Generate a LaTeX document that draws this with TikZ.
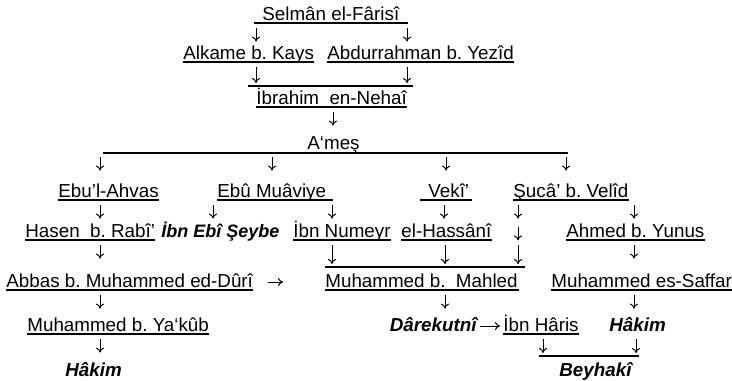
\documentclass[tikz,border=0pt]{standalone}
\usepackage{fontspec}
\setmainfont{Liberation Sans}
\usetikzlibrary{arrows.meta}
\frenchspacing

\tikzset{
  ravi/.style={inner sep=0pt, anchor=base west, text height=7pt, text depth=2pt,
    font=\fontsize{9.4}{11}\selectfont},
  hafiz/.style={ravi, font=\fontsize{9.4}{11}\selectfont\bfseries\itshape},
  ok/.style={-{To[length=2.5pt,width=4pt]}, line width=0.5pt, shorten <=2pt},
  cizgi/.style={line width=0.6pt}
}

\begin{document}
\begin{tikzpicture}[x=0.5pt, y=-0.5pt]
  \useasboundingbox (0,0) rectangle (732,380);

  % isimler
  \node[ravi] (selman) at (262,20) {Selmân el-Fârisî};
  \node[ravi] (alkame) at (183,59) {Alkame b. Kays};
  \node[ravi] (abdur) at (327,59) {Abdurrahman b. Yezîd};
  \node[ravi] (ibrahim) at (256,104) {İbrahim\ \ en-Nehaî};
  \node[ravi] (ames) at (307,149) {A‘meş};
  \node[ravi] (ebulahvas) at (58,197) {Ebu'l-Ahvas};
  \node[ravi] (ebumuaviye) at (217,197) {Ebû Muâviye};
  \node[ravi] (veki) at (428,197) {Vekî'};
  \node[ravi] (suca) at (513,197) {Şucâ' b. Velîd};
  \node[ravi] (hasen) at (25,237) {Hasen\ \ b. Rabî'};
  \node[hafiz, font=\fontsize{9}{11}\selectfont\bfseries\itshape] (seybe) at (161,237) {İbn Ebî Şeybe};
  \node[ravi] (numeyr) at (293,237) {İbn Numeyr};
  \node[ravi] (hassani) at (401,237) {el-Hassânî};
  \node[ravi] (ahmed) at (566,237) {Ahmed b. Yunus};
  \node[ravi] (abbas) at (6,287) {Abbas b. Muhammed ed-Dûrî};
  \node[ravi] (mahled) at (325,287) {Muhammed b.\ \ Mahled};
  \node[ravi] (saffar) at (551,287) {Muhammed es-Saffar};
  \node[ravi] (yakub) at (27,331) {Muhammed b. Ya‘kûb};
  \node[hafiz, anchor=base east] (darekutni) at (477,331) {Dârekutnî};
  \node[ravi] (ibnharis) at (503,331) {İbn Hâris};
  \node[hafiz] (hakimb) at (609,331) {Hâkim};
  \node[hafiz] (hakima) at (65,376) {Hâkim};
  \node[hafiz] (beyhaki) at (559,376) {Beyhakî};

  \coordinate (ibar) at (0,86);
  \coordinate (mbar) at (0,267);
  \coordinate (bbar) at (0,356);

  % alt cizgiler
  \foreach \n in {alkame, abdur, ibrahim, ebulahvas, suca, hasen, numeyr,
                  hassani, ahmed, abbas, saffar, yakub, ibnharis}
    \draw[cizgi] ([yshift=-1.5pt]\n.base west) -- ([yshift=-1.5pt]\n.base east);
  \draw[cizgi] (254,23) -- (408,23);
  \draw[cizgi] (103,153) -- (568,153);
  \draw[cizgi] (217,200) -- (333,200);
  \draw[cizgi] (420,200) -- (472,200);
  \draw[cizgi] (325,290) -- (519,290);
  \draw[cizgi] (248,0 |- ibar) -- (413,0 |- ibar);
  \draw[cizgi] (325,0 |- mbar) -- (525,0 |- mbar);
  \draw[cizgi] (539,0 |- bbar) -- (639,0 |- bbar);

  % oklar
  \foreach \x/\a/\b/\s in {256/selman/alkame/1.5, 407/selman/abdur/1.5,
      333/ibrahim/ames/4.5,
      100/ames/ebulahvas/6, 272/ames/ebumuaviye/6, 446/ames/veki/6, 566/ames/suca/6,
      100/ebulahvas/hasen/2, 213/ebumuaviye/seybe/2, 332/ebumuaviye/numeyr/2,
      444/veki/hassani/2, 518/suca/hassani/2, 634/suca/ahmed/2,
      100/hasen/abbas/7, 634/ahmed/saffar/7,
      100/abbas/yakub/4, 445/mahled/darekutni/4, 634/saffar/hakimb/4,
      100/yakub/hakima/4.5}
    \draw[ok, shorten >=\s pt] (\x,0 |- \a.south) -- (\x,0 |- \b.north);
  \foreach \x/\a/\b in {256/alkame/ibar, 407/abdur/ibar, 332/numeyr/mbar,
      445/hassani/mbar, 518/hassani/mbar, 543/ibnharis/bbar, 636/hakimb/bbar}
    \draw[ok, shorten >=1.5pt] (\x,0 |- \a.south) -- (\x,0 |- \b);
  \draw[ok, shorten >=0.5pt] (518,0 |- hassani.north) -- (518,0 |- hassani.south);
  \draw[ok, shorten <=7.5pt, shorten >=21pt] (abbas.east) -- (mahled.west);
  \draw[ok, shorten <=1.5pt, shorten >=1.5pt] (darekutni.east) -- (ibnharis.west);
\end{tikzpicture}
\end{document}
